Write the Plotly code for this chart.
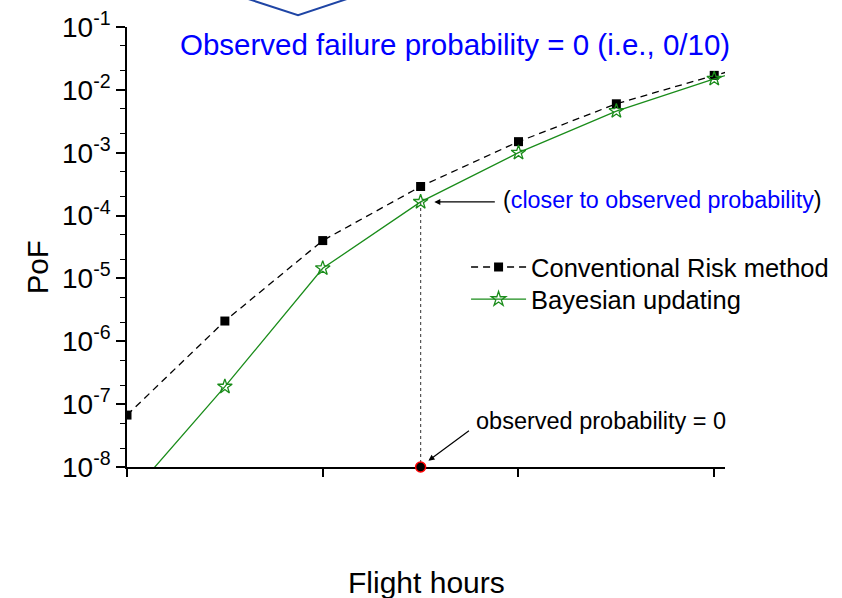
import numpy as np
import plotly.graph_objects as go

# Flight-hour steps (unlabelled on the axis)
steps = [0, 1, 2, 3, 4, 5, 6, 7]

# Probability of failure, conventional risk method
conventional_pof = [6.7e-8, 2.1e-6, 4.0e-5, 2.9e-4, 1.5e-3, 6.0e-3, 1.7e-2, 4.4e-2]
# Probability of failure after Bayesian updating
bayesian_pof = [3.1e-9, 1.9e-7, 1.45e-5, 1.65e-4, 1.0e-3, 4.6e-3, 1.5e-2, 4.2e-2]

# Observed failure probability (0 of 10), shown on the lower bound of the axis
observed_step = [3]
observed_pof = [1e-8]

y_tick_vals = [1e-8, 1e-7, 1e-6, 1e-5, 1e-4, 1e-3, 1e-2, 1e-1]
y_tick_text = ["10<sup>-8</sup>", "10<sup>-7</sup>", "10<sup>-6</sup>", "10<sup>-5</sup>",
               "10<sup>-4</sup>", "10<sup>-3</sup>", "10<sup>-2</sup>", "10<sup>-1</sup>"]

FONT = "Liberation Sans, Arial, sans-serif"
GREEN = "#1a8c1a"
BLUE = "#0000ff"

fig = go.Figure()

# dotted drop line from the updated estimate to the observed value
fig.add_trace(go.Scatter(
    x=[steps[3], observed_step[0]], y=[bayesian_pof[3], observed_pof[0]],
    mode="lines", line=dict(color="#555555", width=1.2, dash="dot"),
    showlegend=False, hoverinfo="skip"))

fig.add_trace(go.Scatter(
    x=steps, y=conventional_pof, name="Conventional Risk method",
    mode="lines+markers", legend="legend",
    line=dict(color="black", width=1.3, dash="7px,5px"),
    marker=dict(symbol="square", size=9, color="black")))

fig.add_trace(go.Scatter(
    x=steps, y=bayesian_pof, name="Bayesian updating",
    mode="lines+markers", legend="legend2",
    line=dict(color=GREEN, width=1.3),
    marker=dict(symbol="star-open", size=11, color=GREEN, line=dict(width=1.3, color=GREEN))))

fig.add_trace(go.Scatter(
    x=observed_step, y=observed_pof, mode="markers",
    marker=dict(symbol="circle", size=10, color="black", line=dict(color="red", width=1.5)),
    cliponaxis=False, showlegend=False, hoverinfo="skip"))

legend_style = dict(xanchor="left", yanchor="top", bgcolor="rgba(0,0,0,0)",
                    font=dict(size=25.5, family=FONT), itemwidth=55)

fig.update_layout(
    width=842, height=598,
    margin=dict(l=127, r=117, t=27, b=131, autoexpand=False),
    paper_bgcolor="white", plot_bgcolor="white",
    font=dict(family=FONT, color="black", size=25),
    showlegend=True,
    legend=dict(x=0.567, y=0.507, **legend_style),
    legend2=dict(x=0.567, y=0.434, **legend_style),
)

fig.update_xaxes(
    range=[0, 6.11], showgrid=False, zeroline=False, automargin=False,
    showline=True, linecolor="black", linewidth=1.5,
    ticks="outside", ticklen=8, tickwidth=1.5, tickcolor="black",
    tickvals=[0, 2, 4, 6], showticklabels=False, layer="below traces")

fig.update_yaxes(
    type="log", range=[-8, -1], showgrid=False, zeroline=False, automargin=False,
    showline=True, linecolor="black", linewidth=1.5,
    ticks="outside", ticklen=9, tickwidth=1.5, tickcolor="black",
    tickvals=y_tick_vals, ticktext=y_tick_text,
    tickfont=dict(size=28, family=FONT),
    minor=dict(ticks="outside", ticklen=5, tickwidth=1, tickcolor="black", showgrid=False))

# axis titles
fig.add_annotation(text="PoF", xref="paper", yref="paper", x=-0.150, y=0.4545,
                   xanchor="center", yanchor="middle",
                   textangle=-90, showarrow=False, font=dict(size=29.5))
fig.add_annotation(text="Flight hours", xref="paper", yref="paper", x=0.5, y=-0.263,
                   xanchor="center", yanchor="middle",
                   showarrow=False, font=dict(size=30))

# headline note
fig.add_annotation(text="Observed failure probability = 0 (i.e., 0/10)",
                   xref="paper", yref="paper", x=0.548, y=0.961,
                   xanchor="center", yanchor="middle",
                   showarrow=False, font=dict(size=29.5, color=BLUE))

# bracket above the headline
fig.add_shape(type="path", xref="paper", yref="paper",
              path="M 0.177 1.075 L 0.286 1.027 L 0.393 1.075",
              line=dict(color="#1f45a5", width=2))

# note pointing at the updated estimate
fig.add_annotation(x=3.14, y=np.log10(bayesian_pof[3]), ax=62, ay=0,
                   text="", showarrow=True, arrowhead=2, arrowsize=1,
                   arrowwidth=1.2, arrowcolor="black", standoff=0)
fig.add_annotation(x=3.82, y=np.log10(bayesian_pof[3]) + 0.03,
                   xanchor="left", yanchor="middle",
                   text="(<span style='color:#0000ff'>closer to observed probability</span>)",
                   showarrow=False, font=dict(size=23.3))

# note pointing at the observed value
fig.add_annotation(x=3.08, y=-7.9, ax=42, ay=-31,
                   text="", showarrow=True, arrowhead=2, arrowsize=1,
                   arrowwidth=1.2, arrowcolor="black", standoff=0)
fig.add_annotation(x=3.55, y=-7.268, xanchor="left", yanchor="middle",
                   text="observed probability = 0",
                   showarrow=False, font=dict(size=23.5))

fig.write_html("out.html")
